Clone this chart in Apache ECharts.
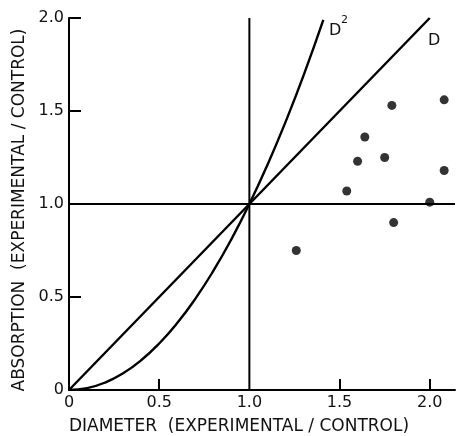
<!DOCTYPE html>
<html>
<head>
<meta charset="utf-8">
<script src="https://cdn.jsdelivr.net/npm/echarts@6/dist/echarts.min.js"></script>
<style>
  html, body { margin: 0; padding: 0; background: #fff; }
  #chart { width: 457px; height: 436px; }
</style>
</head>
<body>
<div id="chart"></div>
<script>
// measured points (diameter ratio, absorption ratio)
const pointsX = [1.79, 2.08, 1.64, 1.60, 1.75, 2.08, 1.54, 2.00, 1.80, 1.26]
const pointsY = [1.53, 1.56, 1.36, 1.23, 1.25, 1.18, 1.07, 1.01, 0.90, 0.75]

// reference curves
const lineDX = [0, 2.0]
const lineDY = [0, 2.0]
const curveD2X = [0, 0.1, 0.2, 0.3, 0.4, 0.5, 0.6, 0.7, 0.8, 0.9, 1.0, 1.1, 1.2, 1.3, 1.41]
const curveD2Y = [0, 0.01, 0.04, 0.09, 0.16, 0.25, 0.36, 0.49, 0.64, 0.81, 1.0, 1.21, 1.44, 1.69, 1.99]

const xTicks = [0, 0.5, 1.0, 1.5, 2.0]
const yTicks = [0, 0.5, 1.0, 1.5, 2.0]
const xMax = 2.14

const chart = echarts.init(document.getElementById('chart'))
const font = 'DejaVu Sans'

function zip(a, b) {
  return a.map((v, i) => [v, b[i]])
}

const option = {
  animation: false,
  grid: {left: 69, right: 2, top: 18, bottom: 46},
  xAxis: {
    type: 'value', min: 0, max: xMax,
    axisLine: {lineStyle: {color: '#000', width: 2}},
    axisTick: {inside: true, length: 11, lineStyle: {color: '#000', width: 2}, customValues: [0.5, 1.5, 2.0]},
    axisLabel: {
      customValues: xTicks, color: '#111', fontFamily: font, fontSize: 16, margin: 5,
      formatter: v => v === 0 ? '0' : v.toFixed(1)
    },
    splitLine: {show: false}
  },
  yAxis: {
    type: 'value', min: 0, max: 2.0, interval: 0.5,
    axisLine: {show: true, lineStyle: {color: '#000', width: 2}},
    axisTick: {show: true, inside: true, length: 12, lineStyle: {color: '#000', width: 2}},
    axisLabel: {
      customValues: yTicks, color: '#111', fontFamily: font, fontSize: 16, margin: 5,
      formatter: v => v === 0 ? '0' : v.toFixed(1)
    },
    splitLine: {show: false}
  },
  graphic: [
    {type: 'text', x: 239, y: 427, style: {text: 'DIAMETER  (EXPERIMENTAL / CONTROL)', font: '17px ' + font, fill: '#111', align: 'center', verticalAlign: 'middle'}},
    {type: 'text', x: 20, y: 210, rotation: Math.PI / 2, style: {text: 'ABSORPTION  (EXPERIMENTAL / CONTROL)', font: '17px ' + font, fill: '#111', align: 'center', verticalAlign: 'middle'}},
    {type: 'text', x: 329, y: 23, style: {text: 'D', font: '16px ' + font, fill: '#111'}},
    {type: 'text', x: 341, y: 15, style: {text: '2', font: '11px ' + font, fill: '#111'}},
    {type: 'text', x: 428, y: 33, style: {text: 'D', font: '16px ' + font, fill: '#111'}}
  ],
  series: [
    {
      type: 'line', data: [[1, 0], [1, 2]], symbol: 'none',
      lineStyle: {color: '#000', width: 2}
    },
    {
      type: 'line', data: [[0, 1], [xMax, 1]], symbol: 'none',
      lineStyle: {color: '#000', width: 2}
    },
    {
      type: 'line', data: zip(lineDX, lineDY), symbol: 'none',
      lineStyle: {color: '#000', width: 2.4}
    },
    {
      type: 'line', data: zip(curveD2X, curveD2Y), symbol: 'none', smooth: true,
      lineStyle: {color: '#000', width: 2.4}
    },
    {
      type: 'scatter', data: zip(pointsX, pointsY), symbolSize: 9,
      itemStyle: {color: '#000'}
    }
  ]
}
chart.setOption(option)
</script>
</body>
</html>
